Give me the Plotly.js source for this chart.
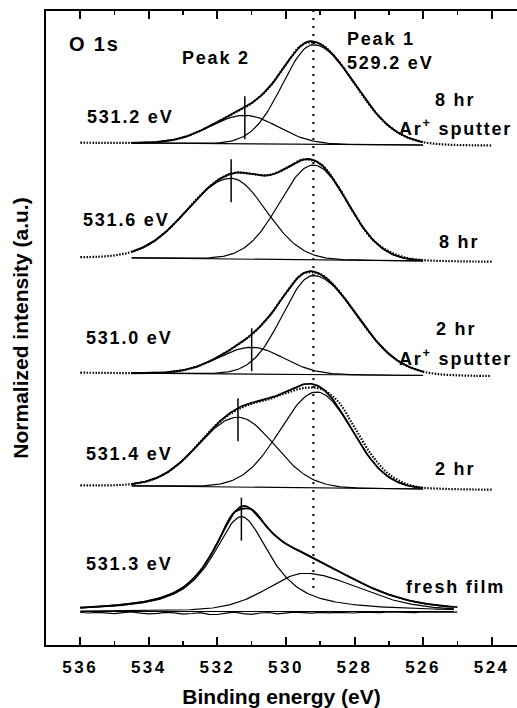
<!DOCTYPE html>
<html>
<head>
<meta charset="utf-8">
<script src="https://cdn.plot.ly/plotly-3.0.1.min.js"></script>
<style>
  html, body { margin: 0; padding: 0; background: #fff; }
  #chart { width: 517px; height: 708px; }
  .xtick text { letter-spacing: 2.5px; }
  .annotation-text { letter-spacing: 1.8px; }
</style>
</head>
<body>
<div id="chart"></div>
<script>
// O 1s XPS spectra, binding energy grid (eV)
const energy = [536, 535.5, 535, 534.5, 534, 533.5, 533, 532.5, 532, 531.5, 531, 530.5,
                530, 529.5, 529, 528.5, 528, 527.5, 527, 526.5, 526, 525.5, 525, 524.5, 524];

// measured intensities (a.u.) above each spectrum's low-energy baseline
const spec8hrAr = [2.8, 2.7, 2.6, 2.6, 3.0, 4.4, 8.1, 14.7, 23.5, 32.6, 42.4, 57.7,
                   81.1, 101.3, 101.5, 85.8, 61.8, 37.7, 19.5, 8.7, 3.4, 1.3, 0.5, 0.2, 0.0];
const spec8hr   = [4.6, 4.9, 6.3, 9.9, 17.3, 30.0, 47.4, 66.2, 81.2, 88.9, 87.7, 86.5,
                   93.5, 102.1, 97.8, 76.4, 47.4, 23.2, 10.5, 4.0, 1.6, 0.8, 0.4, 0.2, 0.0];
const spec2hrAr = [3.3, 3.2, 3.0, 2.9, 3.0, 3.6, 5.8, 10.6, 18.8, 29.2, 41.6, 59.3,
                   83.0, 102.5, 101.8, 86.7, 64.1, 40.7, 22.2, 10.6, 4.4, 1.7, 0.7, 0.2, 0.0];
const spec2hr   = [4.4, 4.3, 4.5, 5.7, 9.0, 16.5, 29.7, 47.7, 66.0, 78.5, 86.0, 90.5,
                   96.5, 101.5, 101.0, 89.0, 62.3, 34.7, 15.6, 5.9, 2.0, 1.0, 0.5, 0.2, 0.0];

const freshEnergy = [536, 535.5, 535, 534.5, 534, 533.5, 533, 532.5, 532, 531.5, 531, 530.5,
                     530, 529.5, 529, 528.5, 528, 527.5, 527, 526.5, 526, 525.5, 525];
const specFresh = [3.9, 4.8, 6.1, 7.9, 10.7, 15.4, 24.1, 40.7, 68.4, 99.4, 102.0, 82.3,
                   67.7, 58.7, 49.8, 40.9, 31.9, 23.7, 16.9, 11.8, 8.2, 5.8, 4.4];

// fit residual of the fresh film, 0.25 eV steps from 536 to 525 eV
const residualEnergy = [536, 535.75, 535.5, 535.25, 535, 534.75, 534.5, 534.25, 534, 533.75,
                        533.5, 533.25, 533, 532.75, 532.5, 532.25, 532, 531.75, 531.5, 531.25,
                        531, 530.75, 530.5, 530.25, 530, 529.75, 529.5, 529.25, 529, 528.75,
                        528.5, 528.25, 528, 527.75, 527.5, 527.25, 527, 526.75, 526.5, 526.25,
                        526, 525.75, 525.5, 525.25, 525];
const residualFresh = [-1.0, -1.5, -0.8, -1.8, -2.2, -1.2, -0.5, -1.6, -2.4, -1.9,
                       -0.9, -1.4, -2.6, -2.0, -1.1, -2.8, -3.0, -1.7, -0.6, -2.2,
                       -2.9, -1.5, -1.0, -2.3, -1.8, -0.7, -1.2, -1.6, -0.9, -1.3,
                       -0.8, -1.1, -1.5, -0.6, -1.0, -1.2, -0.5, -0.9, -0.7, -1.1,
                       -0.4, -0.8, -0.6, -0.5, -0.7];

// fitted components, one entry per spectrum (top to bottom)
const peak2Pos      = [531.2, 531.6, 531.0, 531.4, 531.3];
const peak2Height   = [28.5, 80.6, 26.8, 69.7, 94.8];
const peak2HwHigh   = [1.20, 1.50, 1.15, 1.35, 1.00];
const peak2HwLow    = [1.13, 1.20, 1.10, 1.25, 1.00];
const peak2Lorentz  = [0, 0, 0, 0, 0.85];
const peak1Pos      = [529.2, 529.2, 529.2, 529.1, 529.45];
const peak1Height   = [99.6, 94.8, 99.0, 95.8, 38.2];
const peak1HwHigh   = [1.05, 1.15, 1.05, 1.25, 1.30];
const peak1HwLow    = [1.42, 1.17, 1.48, 1.20, 1.90];
const peak1Lorentz  = [0, 0, 0, 0, 0.3];
const bgAt536       = [2.8, 4.4, 3.3, 4.4, 0];
const bgAt524       = [0, 0, 0, 0, 0];
const fitHigh       = [534.5, 534.5, 534.5, 534.5, 536];
const fitLow        = [526.0, 526.0, 526.0, 526.0, 525.1];

const peak1Ref = 529.2;
const sampleNames = [['8 hr', 'Ar<sup>+</sup> sputter'], ['8 hr'], ['2 hr', 'Ar<sup>+</sup> sputter'], ['2 hr'], ['fresh film']];

// vertical stacking of the spectra
const offsets = [499.5, 383.3, 269.0, 155.3, 33.5];
const spectra = [
  {x: energy, y: spec8hrAr}, {x: energy, y: spec8hr}, {x: energy, y: spec2hrAr},
  {x: energy, y: spec2hr}, {x: freshEnergy, y: specFresh}
];

function peakShape(E, c, h, hwHigh, hwLow, eta) {
  const d = E - c;
  const hw = d > 0 ? hwHigh : hwLow;
  const x2 = (d / hw) * (d / hw);
  return h * ((1 - eta) * Math.pow(0.5, x2) + eta / (1 + x2));
}
function background(E, i) {
  return bgAt524[i] + (bgAt536[i] - bgAt524[i]) * (E - 524) / 12;
}

const BLACK = '#000';
const traces = [];
const annotations = [];
const FONT = 'Liberation Sans, Arial, Helvetica, sans-serif';

spectra.forEach((s, i) => {
  const off = offsets[i];
  const fresh = i === 4;
  // measured data
  traces.push({
    x: s.x, y: s.y.map(v => v + off), mode: 'lines', hoverinfo: 'skip',
    line: fresh ? {color: BLACK, width: 1.6, shape: 'spline'}
                : {color: BLACK, width: 2.2, dash: '1.5px,1.5px', shape: 'spline'}
  });
  // fit curves on a fine grid
  const grid = [];
  for (let E = fitHigh[i]; E >= fitLow[i] - 1e-9; E -= 0.05) grid.push(+E.toFixed(3));
  const bg = grid.map(E => background(E, i));
  const p1 = grid.map(E => peakShape(E, peak1Pos[i], peak1Height[i], peak1HwHigh[i], peak1HwLow[i], peak1Lorentz[i]));
  const p2 = grid.map(E => peakShape(E, peak2Pos[i], peak2Height[i], peak2HwHigh[i], peak2HwLow[i], peak2Lorentz[i]));
  traces.push({x: grid, y: bg.map(v => v + off), mode: 'lines', hoverinfo: 'skip', line: {color: BLACK, width: 1.1}});
  traces.push({x: grid, y: bg.map((b, k) => b + p1[k] + off), mode: 'lines', hoverinfo: 'skip', line: {color: BLACK, width: 1.2}});
  traces.push({x: grid, y: bg.map((b, k) => b + p2[k] + off), mode: 'lines', hoverinfo: 'skip', line: {color: BLACK, width: 1.2}});
  traces.push({x: grid, y: bg.map((b, k) => b + p1[k] + p2[k] + off), mode: 'lines', hoverinfo: 'skip', line: {color: BLACK, width: 1.8}});
  if (fresh) {
    traces.push({x: residualEnergy, y: residualFresh.map(v => v + off), mode: 'lines', hoverinfo: 'skip',
                 line: {color: BLACK, width: 1.2}});
  }
  // peak 2 position marker
  const top = off + background(peak2Pos[i], i) + peak2Height[i];
  traces.push({x: [peak2Pos[i], peak2Pos[i]], y: [top + 19, top - 24], mode: 'lines', hoverinfo: 'skip',
               line: {color: BLACK, width: 1.5}});
});

// reference line at the peak 1 binding energy
traces.push({x: [peak1Ref, peak1Ref], y: [57, 634], mode: 'lines', hoverinfo: 'skip',
             line: {color: BLACK, width: 2, dash: '2px,6px'}});

function label(text, x, y, size) {
  annotations.push({
    text: text, x: x, y: y, xref: 'x', yref: 'y', xanchor: 'left', yanchor: 'middle',
    showarrow: false, font: {family: FONT, size: size || 18, weight: 700, color: BLACK}
  });
}

label('O 1s', 536.39, 601.2, 20);
label('Peak 2', 533.08, 587.2);
label('Peak 1', 528.27, 606.2);
label(peak1Ref.toFixed(1) + ' eV', 528.27, 581.9);

const posLabelY = [528.5, 425.2, 307.2, 191.2, 81.2];
const posLabelX = [535.85, 535.97, 535.9, 535.9, 535.9];
peak2Pos.forEach((p, i) => label(p.toFixed(1) + ' eV', posLabelX[i], posLabelY[i]));

const nameX = [[525.72, 526.76], [525.6], [525.68, 526.76], [525.7], [526.57]];
const nameY = [[545.2, 517.9], [402.9], [316.2, 287.5], [176.2], [58.5]];
sampleNames.forEach((lines, i) => lines.forEach((t, k) => label(t, nameX[i][k], nameY[i][k])));

const layout = {
  width: 517, height: 708,
  margin: {l: 46, r: 0, t: 11, b: 63},
  paper_bgcolor: '#fff', plot_bgcolor: '#fff',
  showlegend: false,
  xaxis: {
    range: [537, 523.26], tick0: 524, dtick: 2,
    ticks: 'inside', ticklen: 8, tickwidth: 2, tickcolor: BLACK,
    minor: {ticks: 'inside', dtick: 1, ticklen: 4, tickwidth: 1.5, tickcolor: BLACK},
    showline: true, linewidth: 2, linecolor: BLACK, mirror: 'allticks',
    showgrid: false, zeroline: false,
    ticklabelstandoff: 6,
    tickfont: {family: FONT, size: 17, weight: 700, color: BLACK},
    title: {text: 'Binding energy (eV)', standoff: 17, font: {family: FONT, size: 21, weight: 700, color: BLACK}}
  },
  yaxis: {
    range: [0, 634], showticklabels: false, ticks: '',
    showline: true, linewidth: 2, linecolor: BLACK, mirror: false,
    showgrid: false, zeroline: false,
    title: {text: 'Normalized intensity (a.u.)', standoff: 10, font: {family: FONT, size: 21, weight: 700, color: BLACK}}
  },
  annotations: annotations
};

Plotly.newPlot('chart', traces, layout, {displayModeBar: false, staticPlot: true});
</script>
</body>
</html>
